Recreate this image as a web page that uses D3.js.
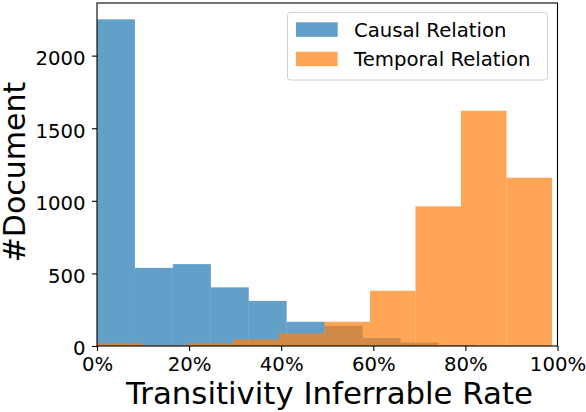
<!DOCTYPE html>
<html>
<head>
<meta charset="utf-8">
<script src="https://cdn.jsdelivr.net/npm/d3@7"></script>
<style>
  body { margin: 0; background: #fff; }
  svg text { font-family: "DejaVu Sans", sans-serif; fill: #000; }
</style>
</head>
<body>
<div id="chart"></div>
<script>
// chart size
var width = 586,
    height = 412;

// histogram data
var causalEdges = [0, 0.0824, 0.1648, 0.2472, 0.3296, 0.412, 0.4944, 0.5768, 0.6592, 0.7416, 0.824];
var causalCounts = [2250, 538, 564, 404, 311, 167, 139, 54, 23, 7];

var temporalEdges = [0, 0.0988, 0.1976, 0.2964, 0.3952, 0.494, 0.5928, 0.6916, 0.7904, 0.8892, 0.988];
var temporalCounts = [18, 5, 18, 46, 87, 167, 380, 962, 1620, 1159];

var xTicks = [0, 0.2, 0.4, 0.6, 0.8, 1.0];
var yTicks = [0, 500, 1000, 1500, 2000];
var seriesNames = ["Causal Relation", "Temporal Relation"];
var seriesColors = ["#1f77b4", "#ff7f0e"];

var margin = {left: 97, right: 28.5, top: 3, bottom: 66};

var svg = d3.select("#chart")
  .append("svg")
  .attr("width", width)
  .attr("height", height);

var x = d3.scaleLinear()
  .domain([0, 1])
  .range([margin.left, width - margin.right]);

var y = d3.scaleLinear()
  .domain([0, 2362.5])
  .range([height - margin.bottom, margin.top]);

function toBins(edges, counts) {
  return counts.map(function(c, i) {
    return {x0: edges[i], x1: edges[i + 1], count: c};
  });
}

var series = [toBins(causalEdges, causalCounts), toBins(temporalEdges, temporalCounts)];

// bars, blue first then orange on top
series.forEach(function(bins, s) {
  svg.append("g")
    .selectAll("rect")
    .data(bins)
    .enter()
    .append("rect")
    .attr("x", function(d) { return x(d.x0); })
    .attr("width", function(d) { return x(d.x1) - x(d.x0); })
    .attr("y", function(d) { return y(d.count); })
    .attr("height", function(d) { return y(0) - y(d.count); })
    .attr("fill", seriesColors[s])
    .attr("fill-opacity", 0.7);
});

// axes
var xAxis = svg.append("g")
  .attr("transform", "translate(0," + y(0) + ")")
  .call(d3.axisBottom(x)
    .tickValues(xTicks)
    .tickFormat(d3.format(".0%"))
    .tickSize(5)
    .tickSizeOuter(0)
    .tickPadding(6));

var yAxis = svg.append("g")
  .attr("transform", "translate(" + x(0) + ",0)")
  .call(d3.axisLeft(y)
    .tickValues(yTicks)
    .tickFormat(d3.format("d"))
    .tickSize(5)
    .tickSizeOuter(0)
    .tickPadding(6.5));

[xAxis, yAxis].forEach(function(a) {
  a.select(".domain").remove();
  a.selectAll(".tick line").attr("stroke", "#000").attr("stroke-width", 1.1);
  a.selectAll(".tick text")
    .style("font-family", "DejaVu Sans")
    .style("font-size", "19.7px")
    .attr("fill", "#000");
});
yAxis.selectAll(".tick text").attr("dy", "0.45em");

// frame round the plot
svg.append("rect")
  .attr("x", x(0))
  .attr("y", y.range()[1])
  .attr("width", x(1) - x(0))
  .attr("height", y(0) - y.range()[1])
  .attr("fill", "none")
  .attr("stroke", "#000")
  .attr("stroke-width", 1.1);

// axis titles
svg.append("text")
  .attr("x", 329.5)
  .attr("y", 403.5)
  .attr("text-anchor", "middle")
  .style("font-size", "30.8px")
  .text("Transitivity Inferrable Rate");

svg.append("text")
  .attr("transform", "translate(25,172)rotate(-90)")
  .attr("text-anchor", "middle")
  .style("font-size", "30px")
  .text("#Document");

// legend
var legend = svg.append("g").attr("class", "legend");

legend.append("rect")
  .attr("x", 287.5)
  .attr("y", 12.5)
  .attr("width", 260)
  .attr("height", 67.5)
  .attr("rx", 3)
  .attr("fill", "#fff")
  .attr("fill-opacity", 0.8)
  .attr("stroke", "#d0d0d0")
  .attr("stroke-width", 1);

seriesNames.forEach(function(name, i) {
  legend.append("rect")
    .attr("x", 296)
    .attr("y", 22.3 + i * 29.4)
    .attr("width", 41.7)
    .attr("height", 14.5)
    .attr("fill", seriesColors[i])
    .attr("fill-opacity", 0.7);
  legend.append("text")
    .attr("x", 354)
    .attr("y", 36.6 + i * 29.3)
    .style("font-size", "19.7px")
    .text(name);
});
</script>
</body>
</html>
